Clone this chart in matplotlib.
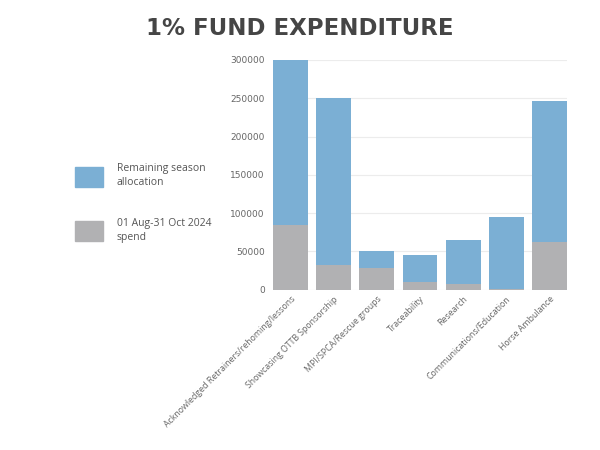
import matplotlib
matplotlib.use("Agg")
import matplotlib.pyplot as plt
import numpy as np
from matplotlib.patches import Patch

categories = [
    "Acknowledged Retrainers/rehoming/lessons",
    "Showcasing OTTB Sponsorship",
    "MPI/SPCA/Rescue groups",
    "Traceability",
    "Research",
    "Communications/Education",
    "Horse Ambulance",
]
spend = [85000, 33000, 28000, 10000, 7000, 1000, 62000]
remaining = [215000, 217000, 22000, 35000, 58000, 94000, 184000]

BLUE = "#7bafd4"
GREY = "#b1b1b3"

fig = plt.figure(figsize=(6, 4.5), dpi=100)
ax = fig.add_axes([0.455, 0.356, 0.49, 0.511])

x = np.arange(len(categories))
width = 0.81
ax.bar(x, spend, width, color=GREY, zorder=2)
ax.bar(x, remaining, width, bottom=spend, color=BLUE, zorder=2)

ax.set_xlim(-width / 2, len(categories) - 1 + width / 2)
ax.set_ylim(0, 300000)
ax.set_yticks(range(0, 300001, 50000))
ax.yaxis.grid(True, color="#ececec", linewidth=0.8, zorder=0)
for s in ax.spines.values():
    s.set_visible(False)
ax.tick_params(axis="both", length=0, colors="#666666", labelsize=6.5)
ax.tick_params(axis="y", pad=6)
ax.set_xticks(x)
ax.set_xticklabels(categories, rotation=45, ha="right", rotation_mode="anchor",
                   fontsize=6.3, color="#666666", family="Open Sans")

fig.text(0.5, 0.937, "1% FUND EXPENDITURE", ha="center", va="center",
         fontsize=16.5, fontweight="bold", color="#454545")

handles = [Patch(color=BLUE), Patch(color=GREY)]
labels = ["Remaining season\nallocation", "01 Aug-31 Oct 2024\nspend"]
leg = fig.legend(handles, labels, loc="upper left", bbox_to_anchor=(0.125, 0.637),
                 frameon=False, prop={"family": "Open Sans", "size": 7.5},
                 handlelength=2.7, handleheight=2.6, labelspacing=2.85,
                 handletextpad=1.3, borderpad=0, borderaxespad=0,
                 labelcolor="#555555")
for t in leg.get_texts():
    t.set_linespacing(1.35)

fig.savefig("out.png", dpi=100)
